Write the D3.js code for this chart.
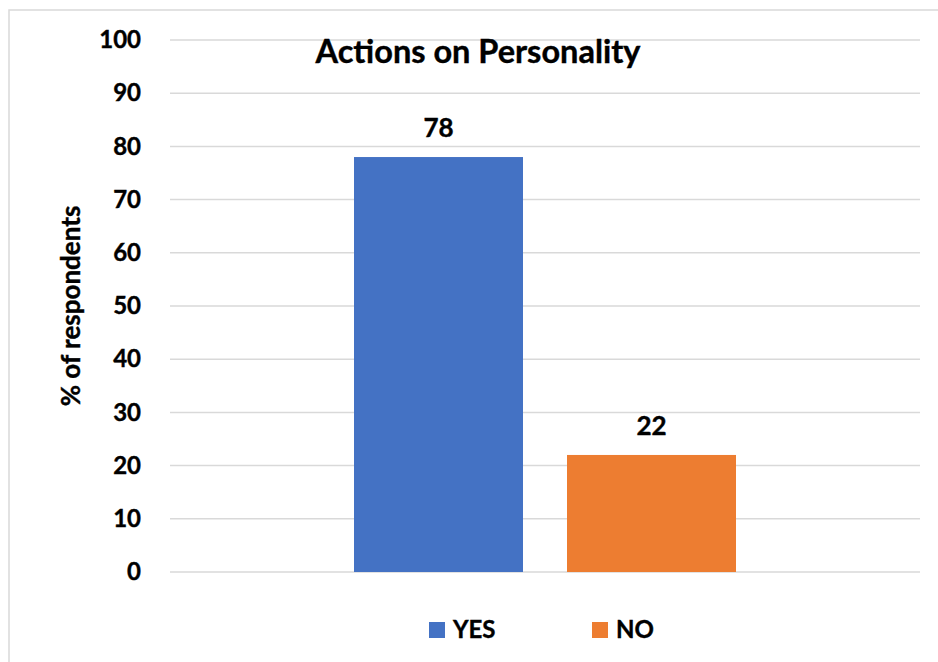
<!DOCTYPE html>
<html>
<head>
<meta charset="utf-8">
<script src="https://cdn.jsdelivr.net/npm/d3@7"></script>
<style>
  html, body { margin: 0; padding: 0; background: #fff; }
  svg { display: block; }
  text { font-family: Lato, "Liberation Sans", sans-serif; font-weight: bold; fill: #000; stroke: #000; stroke-width: 0.4px; }
</style>
</head>
<body>
<script>
const title = "Actions on Personality";
const yAxisTitle = "% of respondents";
const categories = [""];
const seriesNames = ["YES", "NO"];
const seriesColors = ["#4472C4", "#ED7D31"];
const seriesValues = [[78], [22]];
const yTicks = [0, 10, 20, 30, 40, 50, 60, 70, 80, 90, 100];

const W = 938, H = 662;
const svg = d3.select("body").append("svg").attr("width", W).attr("height", H);

// chart border
svg.append("rect").attr("x", 9).attr("y", 10).attr("width", 940).attr("height", 670)
  .attr("fill", "none").attr("stroke", "#d9d9d9").attr("stroke-width", 1.5);

const plot = { left: 170, right: 920, top: 40, bottom: 572 };

const y = d3.scaleLinear().domain([0, 100]).range([plot.bottom, plot.top]);
const x0 = d3.scaleBand().domain(categories).range([plot.left, plot.right])
  .paddingInner(0).paddingOuter(0.4817);
const x1 = d3.scaleBand().domain(seriesNames).range([0, x0.bandwidth()])
  .paddingInner(0.2066).paddingOuter(0);

// gridlines
svg.append("g").selectAll("line").data(yTicks).join("line")
  .attr("x1", plot.left).attr("x2", plot.right)
  .attr("y1", d => y(d)).attr("y2", d => y(d))
  .attr("stroke", "#d9d9d9").attr("stroke-width", 1.5);

// y axis labels
const yAxis = d3.axisLeft(y).tickValues(yTicks).tickSize(0).tickPadding(0);
const gy = svg.append("g").attr("transform", `translate(${plot.left - 29},0)`).call(yAxis);
gy.select(".domain").remove();
gy.selectAll("text").style("font-family", "Lato, 'Liberation Sans', sans-serif")
  .style("font-weight", "bold").style("font-size", "24px").attr("fill", "#000");

// bars
const groups = svg.append("g").selectAll("g").data(categories).join("g")
  .attr("transform", d => `translate(${x0(d)},0)`);
seriesNames.forEach((s, i) => {
  groups.append("rect")
    .attr("x", x1(s)).attr("width", x1.bandwidth())
    .attr("y", (d) => y(seriesValues[i][categories.indexOf(d)]))
    .attr("height", (d) => y(0) - y(seriesValues[i][categories.indexOf(d)]))
    .attr("fill", seriesColors[i]);
  groups.append("text")
    .attr("x", x1(s) + x1.bandwidth() / 2)
    .attr("y", (d) => y(seriesValues[i][categories.indexOf(d)]) - 20)
    .attr("text-anchor", "middle").style("font-size", "26px")
    .text((d) => seriesValues[i][categories.indexOf(d)]);
});

// title
svg.append("text").attr("x", 478).attr("y", 63).attr("text-anchor", "middle")
  .style("font-size", "32.5px").text(title);

// y axis title
svg.append("text").attr("transform", `translate(80,${(plot.top + plot.bottom) / 2}) rotate(-90)`)
  .attr("text-anchor", "middle").style("font-size", "26px").text(yAxisTitle);

// legend
const legendX = [429, 592];
const lg = svg.append("g").selectAll("g").data(seriesNames).join("g")
  .attr("transform", (d, i) => `translate(${legendX[i]},622)`);
lg.append("rect").attr("width", 16).attr("height", 16).attr("fill", (d, i) => seriesColors[i]);
lg.append("text").attr("x", 24).attr("y", 16).style("font-size", "24px").text(d => d);
</script>
</body>
</html>
